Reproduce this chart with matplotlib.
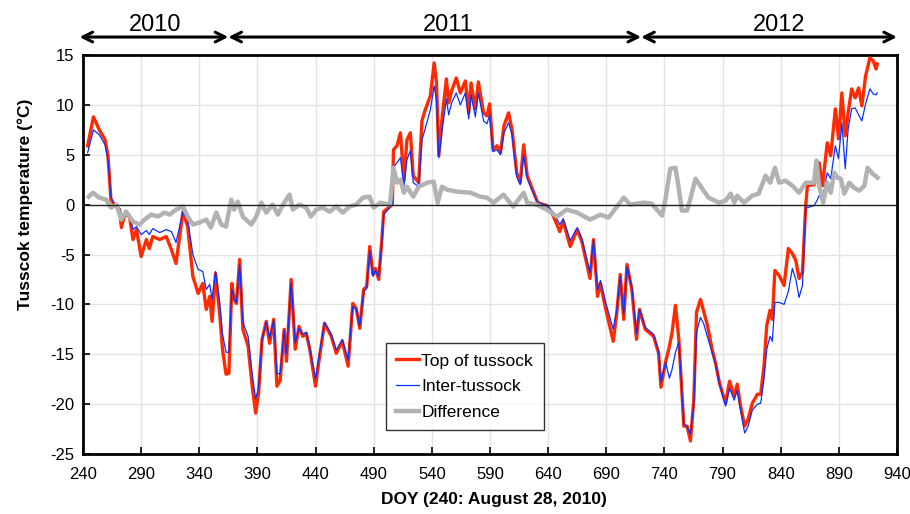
import numpy as np
import matplotlib.pyplot as plt
import matplotlib.transforms as mtransforms

plt.rcParams['font.family'] = ['Liberation Sans', 'DejaVu Sans']
plt.rcParams['axes.unicode_minus'] = False

# day of year (240 = Aug 28, 2010) for red / blue series
days = [244, 249, 254, 259, 261.5, 264, 267, 271.5, 273, 276, 280, 283, 286, 290, 294.5, 297, 300, 306,
        311.6, 316, 320, 326, 330, 334.5, 339, 343, 346, 349, 351, 354, 357.5, 360, 363, 365.5, 368, 370,
        372, 374.7, 377.5, 382, 385.5, 388.5, 391, 394, 397.6, 400.5, 404, 406.8, 409.6, 413, 415, 419,
        422.5, 425.7, 429, 432, 435, 440, 443, 447.7, 453.5, 457.8, 463, 468, 472, 475, 478, 481.4, 484,
        486.6, 489.4, 491.4, 494.3, 497, 498.6, 506, 507, 510, 513, 516, 518.6, 521.5, 524, 528.7, 531.5,
        534, 538.7, 542, 544, 546, 549, 552.5, 554.5, 557, 561, 564.5, 568.8, 571.7, 573.7, 577.4, 580,
        584.5, 587.4, 589.7, 592.6, 596, 599, 602, 606, 609, 613, 616, 619, 622, 626, 631, 639, 644.7,
        650, 653, 659, 665, 669, 676, 679, 682.5, 685, 689, 696, 699, 702, 705, 707.8, 712, 716, 718.6,
        723.5, 730.7, 735, 737, 741, 744.3, 746.6, 749.5, 752.4, 754.6, 756.7, 759.5, 762.4, 765.3, 767.6,
        771, 774, 776.8, 781, 784, 787.4, 792.6, 796, 800, 802.6, 805.5, 809, 812, 815.6, 820, 822.8,
        825.6, 828, 830.8, 832.8, 835, 838.6, 842.9, 846.6, 850, 853, 855.8, 858.7, 861.5, 863, 868.7,
        871.6, 873, 876, 880, 883, 887, 889.7, 892.6, 895.5, 898, 901, 904, 907, 909.8, 913, 916.7,
        919.6, 922, 923]

top_tussock = [5.9, 8.8, 7.5, 6.5, 4.9, 0.5, 0.0, -0.5, -2.3, -1.0, -1.2, -3.5, -2.5, -5.2, -3.5, -4.4, -3.2, -3.5,
               -3.2, -4.5, -5.9, -0.7, -2.2, -7.2, -8.9, -7.9, -10.5, -9.2, -11.7, -6.9, -10.9, -14.5, -17.0, -16.9, -7.9, -9.5,
               -9.9, -5.5, -12.5, -14.2, -18.2, -20.9, -18.9, -13.5, -11.7, -13.9, -11.5, -18.2, -17.6, -12.5, -15.7, -7.5,
               -14.5, -12.2, -13.2, -12.9, -14.5, -18.2, -15.6, -11.9, -13.2, -14.9, -13.7, -16.2, -9.9, -10.4, -12.4, -8.5, -8.2,
               -4.2, -7.0, -6.4, -7.5, -3.5, -0.7, 0.0, 5.5, 5.9, 7.2, 2.5, 6.5, 7.2, 2.9, 2.2, 8.4,
               9.4, 10.9, 14.2, 12.2, 4.9, 8.9, 12.6, 10.2, 11.4, 12.7, 11.2, 12.4, 9.2, 12.2, 9.6, 12.3,
               9.2, 8.9, 10.1, 5.5, 5.9, 5.2, 7.9, 9.2, 7.5, 3.2, 2.2, 6.0, 2.9, 1.7, 0.2, -0.1, -1.2,
               -2.7, -1.7, -4.2, -2.5, -3.7, -7.4, -3.5, -9.2, -7.9, -10.2, -13.7, -10.9, -7.0, -11.5, -6.0, -8.5, -13.5, -10.5,
               -12.5, -13.2, -14.9, -18.3, -15.8, -14.2, -12.8, -10.1, -13.5, -17.9, -22.2, -22.2, -23.7, -19.5, -10.8,
               -9.5, -10.8, -12.0, -14.5, -15.9, -17.9, -19.9, -17.7, -19.2, -18.0, -20.2, -22.2, -21.5, -19.9, -19.0, -19.0,
               -16.2, -12.1, -10.6, -11.5, -6.6, -7.1, -8.1, -4.4, -4.9, -5.6, -7.4, -6.8, -0.1, 1.9, 2.0,
               3.2, 4.2, 1.9, 6.2, 4.9, 9.6, 6.6, 11.2, 6.9, 9.2, 11.6, 10.7, 11.7, 9.9, 12.9, 14.7,
               14.4, 13.6, 14.1]

inter_tussock = [5.2, 7.5, 7.0, 6.0, 4.5, 0.8, 0.0, -0.4, -1.2, -0.8, -1.0, -2.5, -2.2, -3.0, -2.6, -3.0, -2.4, -2.8,
                 -2.5, -2.7, -3.8, -0.7, -1.5, -5.0, -6.5, -6.7, -8.5, -8.0, -9.5, -6.7, -9.8, -13.0, -14.8, -14.8, -8.5, -9.5,
                 -9.8, -6.0, -11.8, -13.2, -17.0, -19.5, -18.3, -13.5, -11.8, -13.4, -11.6, -17.0, -16.9, -12.6, -15.0, -7.8,
                 -13.9, -12.4, -13.0, -12.8, -14.3, -17.5, -15.2, -11.8, -13.0, -14.6, -13.5, -15.6, -10.2, -10.5, -12.2, -8.7, -8.4,
                 -4.6, -7.2, -6.6, -7.2, -3.8, -1.0, 0.0, 3.7, 4.2, 4.7, 1.8, 4.5, 5.4, 2.2, 1.8, 6.5,
                 7.5, 9.5, 11.9, 10.5, 4.7, 7.6, 10.6, 9.0, 10.2, 11.2, 10.0, 11.2, 8.6, 11.0, 8.8, 11.2,
                 8.4, 8.1, 9.0, 5.3, 5.5, 5.0, 7.2, 8.2, 7.0, 2.8, 2.0, 5.0, 2.6, 1.5, 0.2, -0.1, -0.8,
                 -2.0, -1.4, -3.6, -2.3, -3.4, -6.8, -3.6, -8.6, -7.6, -9.6, -12.5, -10.6, -7.2, -11.0, -6.2, -8.3, -13.0, -10.5,
                 -12.3, -13.0, -14.7, -17.8, -15.8, -17.4, -16.5, -14.8, -13.8, -17.8, -22.0, -22.3, -23.0, -20.0, -12.8,
                 -11.3, -12.0, -13.2, -14.8, -16.0, -18.0, -20.2, -18.4, -19.6, -18.6, -20.6, -22.9, -22.2, -20.6, -20.0, -19.9,
                 -17.5, -14.5, -13.2, -13.7, -9.8, -9.8, -10.0, -8.7, -6.4, -7.5, -9.3, -8.1, -0.3, -0.3, -0.1,
                 0.5, 0.9, 0.6, 3.2, 2.6, 5.9, 4.6, 8.2, 3.6, 7.6, 9.6, 9.7, 9.0, 8.4, 10.1, 11.6,
                 11.1, 11.0, 11.2]

diff_days = [245, 248.6, 254, 260, 264, 268.7, 273, 277, 283, 288.7, 293, 298.7, 304.5, 310, 314.5, 320, 326, 330,
             334.6, 340, 346, 350, 354.6, 359, 363, 367.5, 370, 373, 377.5, 384.7, 389, 393.3, 397.6, 403, 407.6,
             412, 417.6, 420.5, 426, 432, 436, 440.6, 446, 452, 457.8, 463.5, 469, 475, 480.7, 486.4, 490, 495.7,
             504, 507, 510, 513, 516, 518.6, 524, 528.7, 536, 541.6, 545, 548.7, 553, 561.6, 573, 581.7, 587.4,
             593, 601.7, 610, 619, 622, 630, 639, 647.6, 656, 665, 676, 685, 692, 705, 710.6, 722, 729, 738,
             741, 745, 749.5, 752, 755, 759.5, 762.4, 766.7, 772.5, 778, 787, 792.6, 797, 800, 802.6, 808.4,
             815.6, 821, 827, 831, 835, 838.6, 844, 850, 855.8, 861.5, 868.7, 870.7, 873, 876.5, 880, 883, 886,
             888.8, 891.7, 894.7, 899, 903, 907.5, 912, 914.7, 919, 923.3]

difference = [0.8, 1.2, 0.7, 0.5, -0.3, 0.0, -1.5, -0.7, -1.7, -2.0, -1.5, -1.0, -1.2, -0.8, -1.0, -0.5, -0.2, -1.2,
              -2.0, -1.8, -1.5, -2.3, -0.8, -2.0, -2.2, 0.5, -0.5, 0.3, -1.2, -2.0, -1.2, 0.2, -0.8, 0.0, -1.0,
              0.0, 1.0, -0.5, 0.0, -0.3, -1.2, -0.5, -0.3, -0.7, -0.2, -0.8, -0.2, 0.0, 0.7, 0.8, -0.3, 0.2,
              0.0, 3.7, 2.2, 2.5, 1.2, 1.8, 0.8, 1.8, 2.2, 2.3, 0.2, 1.8, 1.5, 1.3, 1.2, 0.8, 0.7,
              0.2, 1.0, -0.2, 1.2, 0.2, 0.0, -0.5, -1.2, -0.5, -0.8, -1.5, -1.0, -1.3, 0.7, 0.0, 0.2, 0.1, -1.1,
              0.6, 3.6, 3.7, 1.9, -0.6, -0.6, 0.6, 2.6, 1.6, 0.7, 0.2, 0.4, 1.1, 0.2, 0.9, 0.2,
              0.9, 1.1, 2.9, 2.2, 3.7, 2.2, 2.4, 1.9, 1.2, 2.2, 2.2, 4.4, 1.9, 0.2, 2.2, 1.2, 3.2,
              2.7, 2.6, 1.1, 2.2, 1.7, 1.4, 1.9, 3.7, 3.1, 2.7]

years = ['2010', '2011', '2012']
year_bounds = [237, 365, 720, 940]
label_x = [302, 554, 839]

fig = plt.figure(figsize=(9.1, 5.14), dpi=100)
ax = fig.add_axes([0.0912, 0.1167, 0.8945, 0.7763])

ax.plot(days, top_tussock, color='#ff2a00', lw=2.4, label='Top of tussock', zorder=3)
ax.plot(days, inter_tussock, color='#0a32ff', lw=0.9, label='Inter-tussock', zorder=4)
ax.plot(diff_days, difference, color='#b2b2b2', lw=3.2, label='Difference', zorder=5)
ax.axhline(0, color='#222222', lw=1.0, zorder=6)

ax.set_xlim(240, 940)
ax.set_ylim(-25, 15)
ax.set_xticks(np.arange(240, 941, 50))
ax.set_yticks(np.arange(-25, 16, 5))
ax.grid(True, color='#e3e3e3', lw=1.0, zorder=0)
ax.set_axisbelow(True)
ax.tick_params(direction='in', length=5, width=1.2, labelsize=12)
ax.tick_params(axis='x', pad=9)
ax.tick_params(axis='y', pad=6)
for s in ax.spines.values():
    s.set_linewidth(2)

ax.set_xlabel('DOY (240: August 28, 2010)', fontsize=12.5, fontweight='bold')
ax.set_ylabel('Tusscok temperature (°C)', fontsize=12.5, fontweight='bold')
ax.yaxis.set_label_coords(-0.062, 0.627)
ax.xaxis.set_label_coords(0.505, -0.094)

leg = ax.legend(loc='lower left', bbox_to_anchor=(0.372, 0.06), fontsize=12.5, frameon=True,
                fancybox=False, edgecolor='black', handlelength=1.3, handletextpad=0.15,
                borderpad=0.6, labelspacing=0.6, borderaxespad=0)
leg.get_frame().set_linewidth(1.0)

# year arrows above the plot
trans = mtransforms.blended_transform_factory(ax.transData, ax.transAxes)
for i, yr in enumerate(years):
    x0, x1 = year_bounds[i], year_bounds[i + 1]
    ax.annotate('', xy=(x1, 1.045), xytext=(x0, 1.045), xycoords=trans, textcoords=trans,
                arrowprops=dict(arrowstyle='<->,head_length=0.7,head_width=0.35', lw=2.2, color='black',
                                shrinkA=0, shrinkB=0), annotation_clip=False)
for x, yr in zip(label_x, years):
    ax.text(x, 1.06, yr, transform=trans, ha='center', va='baseline', fontsize=17, clip_on=False)

fig.savefig('out.png', dpi=100)
